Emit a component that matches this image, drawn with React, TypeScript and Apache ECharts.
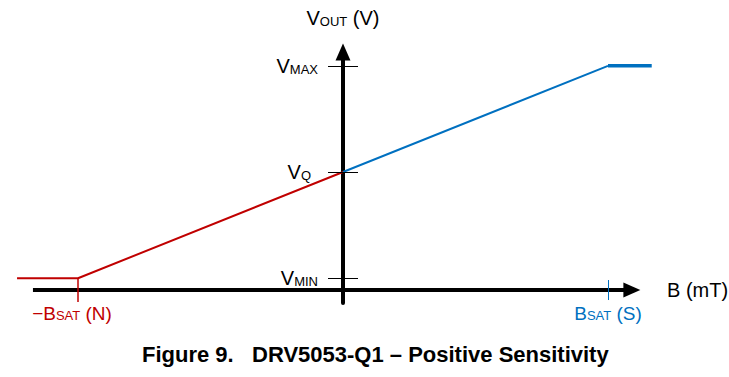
import React, { useEffect, useRef } from "react";
import * as echarts from "echarts";

// Conceptual units: B in units of BSAT, V in arbitrary units
const B_SAT = 1;
const V_MIN = 0.1;
const V_Q = 1.0;
const V_MAX = 1.9;
const B_LEFT_END = -1.23;
const B_RIGHT_END = 1.165;
const B_AXIS_START = -1.17;
const B_AXIS_END = 1.09;

const negSeries = [
  [B_LEFT_END, V_MIN],
  [-B_SAT, V_MIN],
  [0, V_Q],
];
const posSlope = [
  [0, V_Q],
  [B_SAT, V_MAX],
];
const posSat = [
  [B_SAT, V_MAX],
  [B_RIGHT_END, V_MAX],
];
const yTickValues = [V_MIN, V_Q, V_MAX];
const yTickLabels = ["{v|V}{s|MIN}", "{v|V}{s|Q}", "{v|V}{s|MAX}"];
const yTickLabelGaps = [10, 17, 10];
const xNegLabel = "{r|−B}{rs|SAT}{r| (N)}";
const xPosLabel = "{b|B}{bs|SAT}{b| (S)}";

const RED = "#C00000";
const BLUE = "#0070C0";
const FONT = "Liberation Sans, Arial, sans-serif";

export default function App() {
  const ref = useRef<HTMLDivElement>(null);
  useEffect(() => {
    if (!ref.current) return;
    const chart = echarts.init(ref.current, undefined, { renderer: "svg" });
    const TX = 15 / 265;
    const TY1 = 12 / 118;
    const TY2 = 10 / 118;
    const big = { fontSize: 20, fontFamily: FONT, lineHeight: 24, verticalAlign: "middle" };
    const sub = { fontSize: 13, fontFamily: FONT, lineHeight: 24, verticalAlign: "bottom", padding: [0, 0, 2, 0] };
    const bigX = { fontSize: 19, fontFamily: FONT, lineHeight: 22, verticalAlign: "middle" };
    const subX = { fontSize: 13, fontFamily: FONT, lineHeight: 22, verticalAlign: "bottom", padding: [0, 0, 2, 0] };
    const yTickLines = yTickValues.map((v, i) => [
      {
        coord: [-TX, v],
        lineStyle: { color: "#000", width: 1, type: "solid" },
        label: {
          show: true,
          position: "start",
          distance: yTickLabelGaps[i],
          formatter: yTickLabels[i],
          rich: { v: { ...big, color: "#000" }, s: { ...sub, color: "#000" } },
        },
      },
      { coord: [TX, v] },
    ]);
    chart.setOption({
      animation: false,
      title: {
        text: "Figure 9.   DRV5053-Q1 – Positive Sensitivity",
        left: 142,
        top: 343,
        padding: 0,
        textStyle: { fontFamily: FONT, fontSize: 22, fontWeight: "bold", color: "#000" },
      },
      grid: { left: 11.75, right: 68, top: 52, bottom: 74, outerBoundsMode: "none", containLabel: false },
      xAxis: {
        type: "value",
        min: -1.25,
        max: 1.2,
        name: "B (mT)",
        nameLocation: "end",
        nameGap: 6,
        nameTextStyle: { fontFamily: FONT, fontSize: 20, color: "#000", verticalAlign: "middle" },
        axisLine: { show: false, onZero: true },
        axisTick: { show: false },
        splitLine: { show: false },
        axisLabel: { show: false },
      },
      yAxis: {
        type: "value",
        min: -0.11,
        max: 2.017,
        name: "{v|V}{s|OUT}{v| (V)}",
        nameLocation: "end",
        nameGap: 22,
        nameTextStyle: {
          rich: {
            v: { ...big, color: "#000" },
            s: { ...sub, color: "#000" },
          },
        },
        axisLine: {
          onZero: true,
          symbol: ["none", "triangle"],
          symbolSize: [15, 17],
          lineStyle: { color: "#000", width: 4 },
        },
        axisTick: { show: false },
        splitLine: { show: false },
        axisLabel: { show: false },
      },
      series: [
        {
          type: "line",
          data: negSeries,
          symbol: "none",
          lineStyle: { color: RED, width: 2 },
          itemStyle: { color: RED },
          z: 3,
          markLine: {
            silent: true,
            symbol: ["none", "none"],
            label: { show: false },
            lineStyle: { color: RED, width: 1.5, type: "solid" },
            data: [
              ...yTickLines,
              [
                {
                  coord: [-B_SAT, V_MIN],
                  lineStyle: { color: RED, width: 1.5, type: "solid" },
                  label: {
                    show: true,
                    position: "end",
                    distance: 0,
                    offset: [-6, 0],
                    formatter: xNegLabel,
                    rich: { r: { ...bigX, color: RED }, rs: { ...subX, color: RED } },
                  },
                },
                { coord: [-B_SAT, -TY1] },
              ],
            ],
          },
        },
        {
          type: "line",
          data: posSlope,
          symbol: "none",
          lineStyle: { color: BLUE, width: 2 },
          itemStyle: { color: BLUE },
          z: 3,
          markLine: {
            silent: true,
            symbol: ["none", "none"],
            label: { show: false },
            lineStyle: { color: BLUE, width: 1, type: "solid" },
            data: [
              [
                {
                  coord: [B_SAT, TY2],
                  lineStyle: { color: BLUE, width: 1, type: "solid" },
                  label: {
                    show: true,
                    position: "end",
                    distance: 2,
                    formatter: xPosLabel,
                    rich: { b: { ...bigX, color: BLUE }, bs: { ...subX, color: BLUE } },
                  },
                },
                { coord: [B_SAT, -TY2] },
              ],
            ],
          },
        },
        {
          type: "line",
          data: posSat,
          symbol: "none",
          lineStyle: { color: BLUE, width: 3.5 },
          itemStyle: { color: BLUE },
          z: 3,
          markLine: {
            silent: true,
            symbol: ["none", "triangle"],
            symbolSize: [15, 17],
            label: { show: false },
            lineStyle: { color: "#000", width: 4, type: "solid" },
            z: 4,
            data: [[{ coord: [B_AXIS_START, 0] }, { coord: [B_AXIS_END, 0] }]],
          },
        },
      ],
    });
    return () => chart.dispose();
  }, []);
  return (
    <div
      ref={ref}
      style={{ position: "fixed", left: 0, top: 0, width: 729, height: 377, background: "#fff" }}
    />
  );
}
